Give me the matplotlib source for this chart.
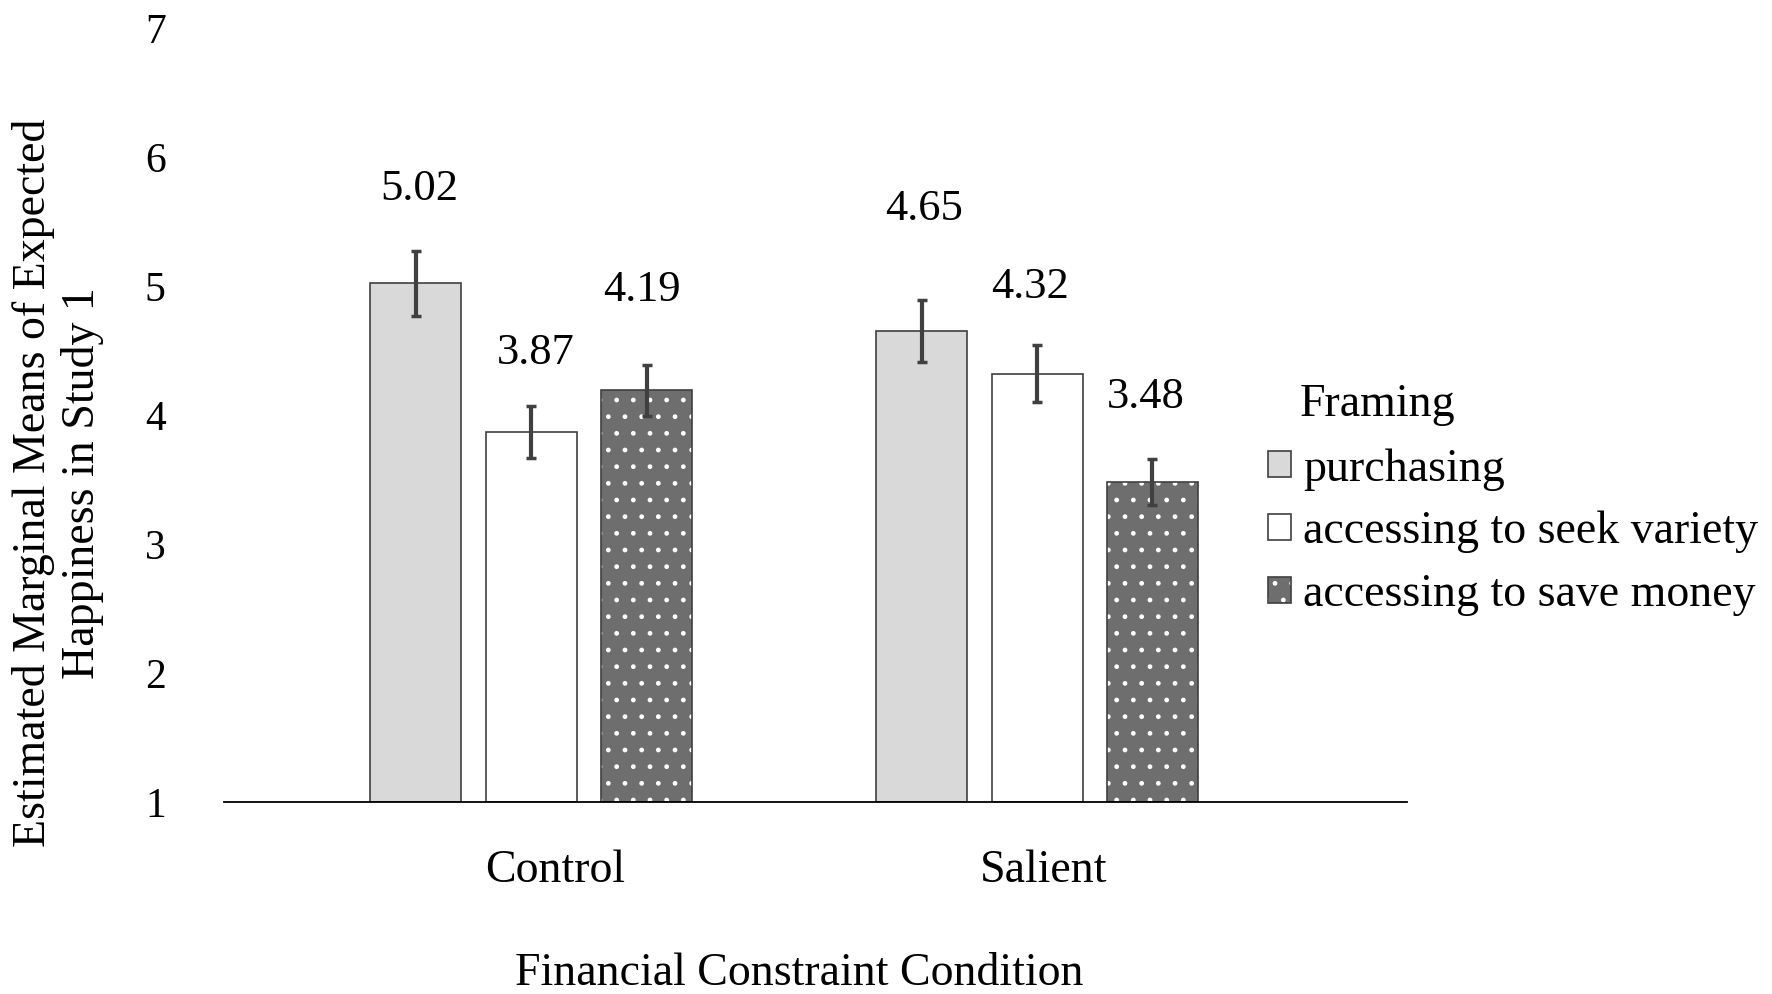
import matplotlib
matplotlib.use("Agg")
import matplotlib.pyplot as plt
from matplotlib.patches import Patch
from matplotlib.legend_handler import HandlerTuple
import numpy as np

# ---- data ----
conditions = ["Control", "Salient"]
framings = ["purchasing", "accessing to seek variety", "accessing to save money"]
purchasing = [5.02, 4.65]
seek_variety = [3.87, 4.32]
save_money = [4.19, 3.48]
err_purchasing = [0.25, 0.24]
err_seek_variety = [0.20, 0.22]
err_save_money = [0.20, 0.18]
y_ticks = [1, 2, 3, 4, 5, 6, 7]
x_title = "Financial Constraint Condition"
y_title = "Estimated Marginal Means of Expected\nHappiness in Study 1"
legend_title = "Framing"

# ---- style ----
plt.rcParams['font.family'] = ['Liberation Serif', 'DejaVu Serif']
W, H = 1772, 994
fig = plt.figure(figsize=(W / 100, H / 100), dpi=100)
ax = fig.add_axes([224 / W, 1 - 802 / H, (1407 - 224) / W, (802 - 28) / H])

edge = "#404040"
face_cols = ["#d9d9d9", "#ffffff", "#6e6e6e"]
bar_w = 0.18
step = 0.228
x = np.arange(len(conditions))

series = [purchasing, seek_variety, save_money]
errs = [err_purchasing, err_seek_variety, err_save_money]
# label offsets (x in data units, y in value units above error bar top)
lab_dx = [[0.007, 0.004], [0.009, -0.013], [-0.009, -0.013]]
lab_dy = [[0.48, 0.71], [0.41, 0.45], [0.58, 0.48]]

for i, (vals, er) in enumerate(zip(series, errs)):
    xp = x + (i - 1) * step
    base = 1
    heights = [v - base for v in vals]
    if i == 2:
        ax.bar(xp, heights, bar_w, bottom=base, color=face_cols[i],
               edgecolor="white", hatch=".", linewidth=0, zorder=2)
        ax.bar(xp, heights, bar_w, bottom=base, fill=False,
               edgecolor=edge, linewidth=1.2, zorder=3)
    else:
        ax.bar(xp, heights, bar_w, bottom=base, color=face_cols[i],
               edgecolor=edge, linewidth=1.2, zorder=2)
    ax.errorbar(xp, vals, yerr=er, fmt="none", ecolor="#404040",
                elinewidth=3, capsize=3.6, capthick=2.5, zorder=4)
    for j, v in enumerate(vals):
        ax.text(xp[j] + lab_dx[i][j], v + er[j] + lab_dy[i][j], f"{v:.2f}",
                ha="center", va="center", fontsize=32, color="black")

ax.set_ylim(1, 7)
ax.set_xlim(-0.607, 1.731)
ax.set_yticks(y_ticks)
ax.set_yticklabels([str(t) for t in y_ticks], fontsize=30)
ax.set_xticks([0.047, 1.012])
ax.set_xticklabels(conditions, fontsize=33)
ax.tick_params(axis="y", length=0, pad=42)
ax.tick_params(axis="x", length=0, pad=34)
for s in ["top", "right", "left"]:
    ax.spines[s].set_visible(False)
ax.spines["bottom"].set_color("black")
ax.spines["bottom"].set_linewidth(1.3)
ax.spines["bottom"].set_zorder(5)

fig.text(799 / W, 1 - 974 / H, x_title, ha="center", va="center", fontsize=33)
fig.text(58 / W, 1 - 483 / H, y_title, ha="center", va="center",
         rotation=90, fontsize=33, multialignment="center", linespacing=1.17)

# legend
h_p = Patch(facecolor=face_cols[0], edgecolor=edge, linewidth=1.2)
h_v = Patch(facecolor=face_cols[1], edgecolor=edge, linewidth=1.2)
h_s = (Patch(facecolor=face_cols[2], edgecolor="white", hatch=".", linewidth=0),
       Patch(fill=False, edgecolor=edge, linewidth=1.2))
leg = fig.legend([h_p, h_v, h_s], framings, loc="center left",
                 bbox_to_anchor=(1268 / W, 1 - 532 / H), frameon=False,
                 fontsize=33, handlelength=0.5, handleheight=0.5,
                 handletextpad=0.26, labelspacing=0.44, borderpad=0,
                 borderaxespad=0,
                 handler_map={tuple: HandlerTuple(ndivide=1)})
fig.text(1300 / W, 1 - 405 / H, legend_title, ha="left", va="center", fontsize=33)

fig.savefig("out.png", dpi=100)
